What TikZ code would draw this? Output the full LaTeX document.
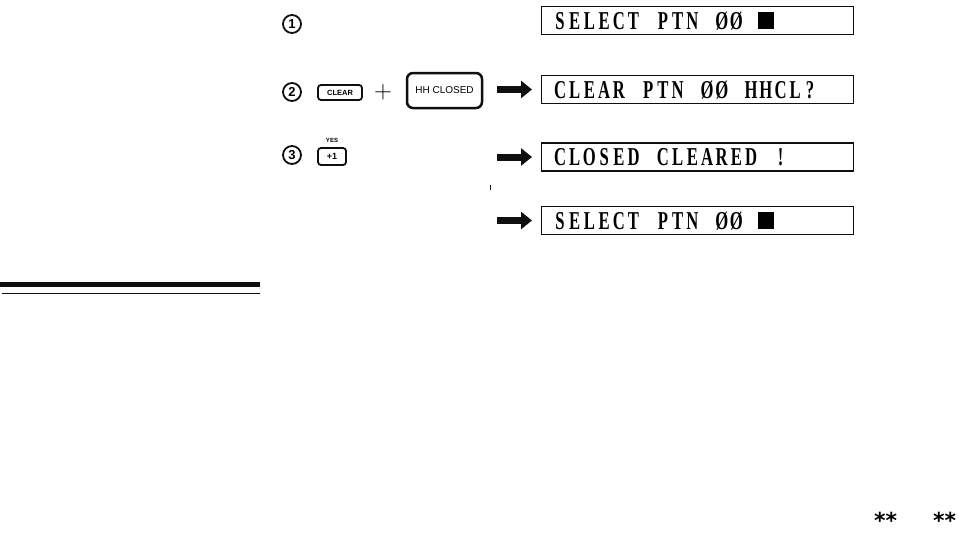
\documentclass[tikz,border=0pt]{standalone}
\usepackage{fontspec}
\setmainfont{Liberation Sans}
\newfontfamily\lcdfont{Liberation Serif}
\newfontfamily\symfont{DejaVu Sans}
\usetikzlibrary{arrows.meta, positioning, calc}
\definecolor{tinta}{RGB}{15,15,15}

% caracteres de la pantalla con paso fijo
\def\lcdchars#1{\ifx#1\relax\else\makebox[14.7pt][c]{\scalebox{0.68}[1.05]{#1}}\expandafter\lcdchars\fi}
\newcommand{\lcd}[1]{{\lcdfont\bfseries\fontsize{24.5}{24.5}\selectfont\lcdchars#1\relax}}
\newcommand{\cursor}{\rule{24pt}{16pt}}

\begin{document}
\begin{tikzpicture}[
    x=1pt, y=-1pt,
    pantalla/.style={draw=tinta, line width=1.4pt, anchor=west, minimum width=312pt,
        text width=290pt, align=left, inner xsep=11pt, inner ysep=5.5pt,
        text height=17pt, text depth=0pt},
    paso/.style={circle, draw=tinta, line width=1.8pt, minimum size=18pt, inner sep=0pt,
        font=\bfseries\fontsize{13}{13}\selectfont},
    tecla/.style={draw=tinta, rounded corners=3pt, line width=1.8pt, inner sep=0pt},
    flecha/.style={tinta, line width=7pt, -{Triangle[length=11pt, width=17pt]}}
]

% Fondo
\fill[white] (0,0) rectangle (962,533);
\useasboundingbox (0,0) rectangle (962,533);

% Pasos
\node[paso] (p1) at (292,24) {1};
\node[paso] (p2) at (292,92) {2};
\node[paso] (p3) at (292,155) {3};

% Teclas
\node[tecla, minimum width=44pt, minimum height=15pt, font=\bfseries\fontsize{7.5}{7.5}\selectfont] (clear) at (340,92.5) {CLEAR};
\node[font=\fontsize{25}{25}\selectfont] (mas) at (383,92) {$+$};
\node[tecla, rounded corners=6pt, line width=2.5pt, minimum width=75pt, minimum height=35pt, font=\fontsize{10}{10}\selectfont] (hhcl) at (444.5,90.5) {HH CLOSED};
\node[tecla, minimum width=28pt, minimum height=17pt, font=\bfseries\fontsize{9}{9}\selectfont] (uno) at (332,156.5) {+1};
\node[font=\bfseries\fontsize{6}{6}\selectfont, above=1.5pt of uno] (yes) {YES};

% Pantallas
\node[pantalla] (d1) at (541,20.5) {\lcd{SELECT~PTN~ØØ~\cursor}};
\node[pantalla] (d2) at (541,89.5) {\lcd{CLEAR~PTN~ØØ~HHCL?}};
\node[pantalla] (d3) at (541,157) {\lcd{CLOSED~CLEARED~!}};
\node[pantalla] (d4) at (541,220.5) {\lcd{SELECT~PTN~ØØ~\cursor}};

% Flechas
\foreach \d in {d2,d3,d4} {
    \draw[flecha] ([xshift=-44pt]\d.west) -- ([xshift=-9pt]\d.west);
}

% Marca
\fill[tinta] (489.5,185) rectangle (491,190);

% Reglas
\fill[tinta] (0,282) rectangle (260,287);
\draw[tinta, line width=1pt] (2,293) -- (260,293);

% Asteriscos
\node[anchor=north, inner sep=0pt, font=\symfont\bfseries\fontsize{22}{22}\selectfont] (ast1) at (885.5,512) {**};
\node[anchor=north, inner sep=0pt, font=\symfont\bfseries\fontsize{22}{22}\selectfont] (ast2) at (944.5,512) {**};

\end{tikzpicture}
\end{document}
